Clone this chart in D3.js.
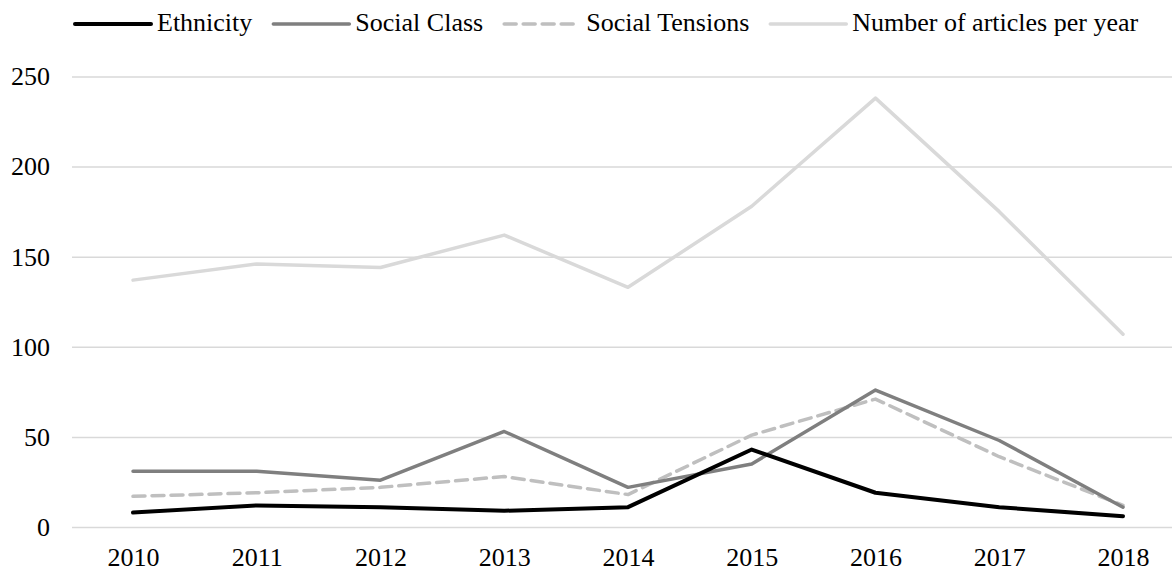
<!DOCTYPE html>
<html>
<head>
<meta charset="utf-8">
<script src="https://cdn.jsdelivr.net/npm/d3@7"></script>
<style>
  body { margin: 0; background: #fff; }
  svg text { font-family: "Liberation Serif", "Times New Roman", serif; fill: #000; }
</style>
</head>
<body>
<div id="chart"></div>
<script>
// datos
const years = ["2010", "2011", "2012", "2013", "2014", "2015", "2016", "2017", "2018"];
const ethnicity = [8, 12, 11, 9, 11, 43, 19, 11, 6];
const socialClass = [31, 31, 26, 53, 22, 35, 76, 48, 11];
const socialTensions = [17, 19, 22, 28, 18, 51, 71, 39, 12];
const articles = [137, 146, 144, 162, 133, 178, 238, 175, 107];
const yTicks = [0, 50, 100, 150, 200, 250];

const series = [
  { name: "Ethnicity", values: ethnicity, color: "#000000", dash: null, w: 4 },
  { name: "Social Class", values: socialClass, color: "#7f7f7f", dash: null, w: 3.5 },
  { name: "Social Tensions", values: socialTensions, color: "#bfbfbf", dash: "12,7", w: 3.5 },
  { name: "Number of articles per year", values: articles, color: "#d9d9d9", dash: null, w: 3.5 }
];

const width = 1172, height = 571;
const plotLeft = 72, plotRight = 1172, plotTop = 76.5, plotBottom = 527;

const svg = d3.select("#chart").append("svg")
  .attr("width", width)
  .attr("height", height);

// escalas
const x = d3.scalePoint().domain(years).range([133, 1123]);
const y = d3.scaleLinear().domain([0, 250]).range([plotBottom, plotTop]);

// eje y con lineas de cuadricula
const yAxis = svg.append("g")
  .attr("transform", `translate(${plotLeft},0)`)
  .call(d3.axisLeft(y).tickValues(yTicks).tickSize(-(plotRight - plotLeft)).tickPadding(22));
yAxis.select(".domain").remove();
yAxis.selectAll(".tick line").attr("stroke", "#d9d9d9").attr("stroke-width", 1.5);
yAxis.selectAll(".tick text").attr("font-size", 26).attr("font-family", "Liberation Serif");

// eje x
const xAxis = svg.append("g")
  .attr("transform", `translate(0,${plotBottom})`)
  .call(d3.axisBottom(x).tickSize(0).tickPadding(21));
xAxis.select(".domain").remove();
xAxis.selectAll(".tick text").attr("font-size", 26).attr("font-family", "Liberation Serif");

// lineas
const line = d3.line()
  .x((d, i) => x(years[i]))
  .y(d => y(d));

// dibujar de atras hacia adelante
const drawOrder = [series[3], series[2], series[1], series[0]];
svg.selectAll(".serie")
  .data(drawOrder)
  .enter()
  .append("path")
  .attr("class", "serie")
  .attr("d", d => line(d.values))
  .attr("fill", "none")
  .attr("stroke", d => d.color)
  .attr("stroke-width", d => d.w)
  .attr("stroke-linejoin", "round")
  .attr("stroke-linecap", "round")
  .attr("stroke-dasharray", d => d.dash);

// leyenda
const legend = svg.append("g").attr("class", "legend");
let lx = 75;
series.forEach(s => {
  legend.append("line")
    .attr("x1", lx).attr("x2", lx + 76)
    .attr("y1", 24).attr("y2", 24)
    .attr("stroke", s.color)
    .attr("stroke-width", s.w)
    .attr("stroke-linecap", "round")
    .attr("stroke-dasharray", s.dash);
  const t = legend.append("text")
    .attr("x", lx + 82)
    .attr("y", 31)
    .attr("font-size", 26)
    .text(s.name);
  lx = lx + 82 + t.node().getComputedTextLength() + 21;
});
</script>
</body>
</html>
